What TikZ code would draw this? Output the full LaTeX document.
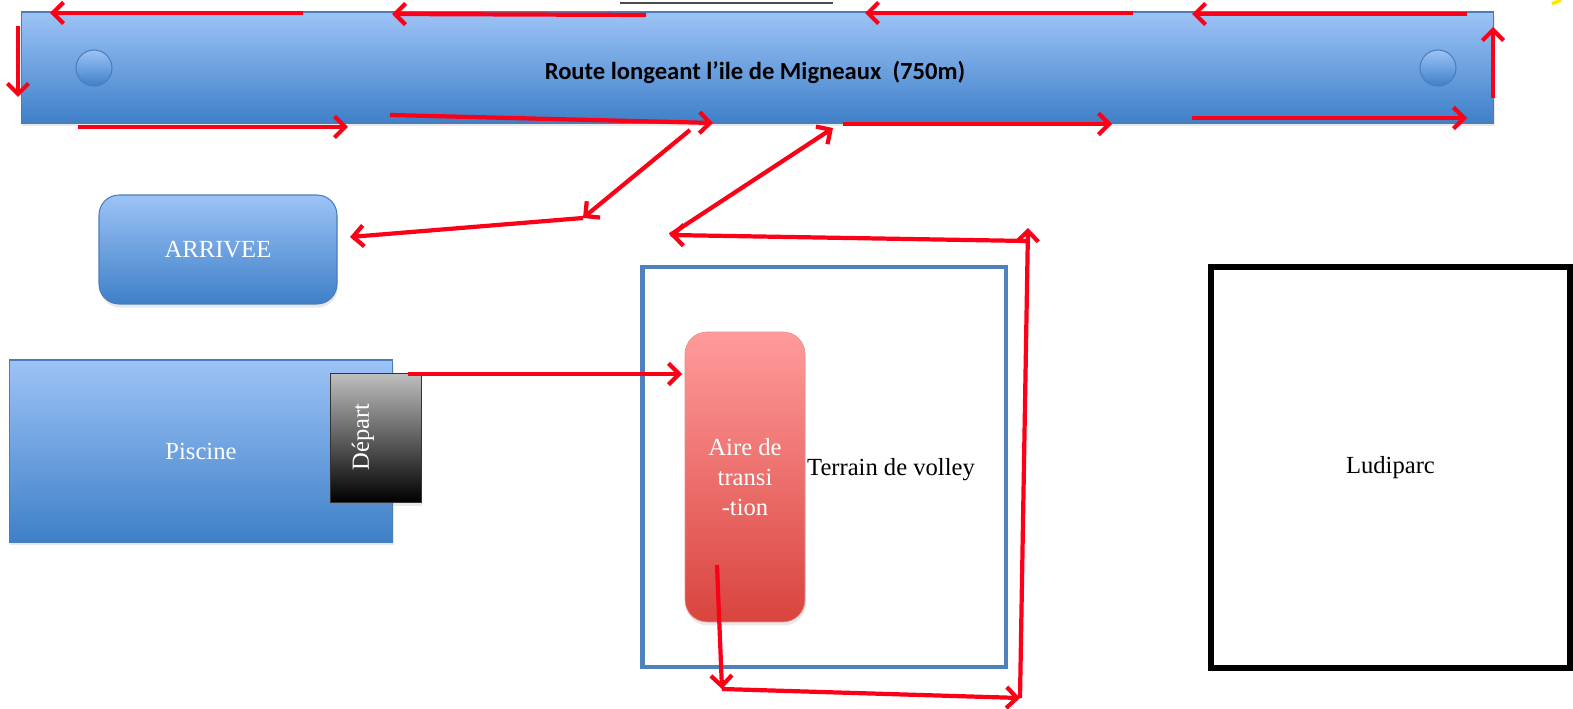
\documentclass[tikz,border=0pt]{standalone}
\usepackage{fontspec}
\setmainfont{Liberation Serif}
\newfontfamily\roadfont{Carlito}
\usetikzlibrary{arrows.meta,shadows}

\definecolor{roadtop}{RGB}{157,195,246}
\definecolor{roadbot}{RGB}{62,128,200}
\definecolor{roadline}{RGB}{74,126,187}
\definecolor{airetop}{RGB}{255,155,155}
\definecolor{airebot}{RGB}{217,68,62}
\definecolor{volley}{RGB}{79,129,189}
\definecolor{trace}{RGB}{252,0,24}

\tikzset{
    bluebox/.style={draw=roadline, top color=roadtop, bottom color=roadbot, line width=0.6pt},
    soft/.style={drop shadow={opacity=0.18, shadow xshift=0.5pt, shadow yshift=-2pt}},
    parcours/.style={draw=trace, line width=2.4pt, -{Straight Barb[length=6pt,width=12pt]}},
}

\begin{document}
\begin{tikzpicture}[x=0.02cm, y=-0.02cm, font=\fontsize{14}{17}\selectfont]

        \useasboundingbox (0,0) rectangle (1573,709);

        % la route
        \node[bluebox, soft, minimum width=29.46cm, minimum height=2.22cm] (road) at (757.5,67.5) {};
        \node[font=\roadfont\bfseries\fontsize{14}{16}\selectfont] (roadtext) at (755,72) {Route longeant l’ile de Migneaux~~(750m)};
        \node[bluebox, circle, minimum size=0.72cm, inner sep=0pt] (bulleW) at (94,68) {};
        \node[bluebox, circle, minimum size=0.72cm, inner sep=0pt] (bulleE) at (1438,68) {};

        \draw[black!70, line width=0.6pt] (620,3) -- (833,3);
        \draw[yellow!90!orange, line width=2pt] (1552,4) -- (1561,0);

        % les zones
        \node[bluebox, soft, rounded corners=0.4cm, minimum width=4.76cm, minimum height=2.18cm, text=white] (arrivee) at (218,249.5) {ARRIVEE};
        \node[bluebox, soft, minimum width=7.68cm, minimum height=3.64cm, text=white] (piscine) at (201,451) {Piscine};
        \node[draw=black!80, soft, top color=gray!50, bottom color=black, minimum width=1.82cm, minimum height=2.58cm] (depart) at (375.5,437.5) {};
        \node[rotate=90, text=white] (departtext) at (363,437) {Départ};

        \node[draw=volley, line width=2.8pt, minimum width=7.28cm, minimum height=8cm] (terrain) at (824,467) {};
        \node[draw=airebot!60, soft, rounded corners=0.44cm, top color=airetop, bottom color=airebot, minimum width=2.4cm, minimum height=5.8cm, text=white, align=center] (aire) at (745,477) {Aire de\\transi\\-tion};
        \node (terraintext) at (891,470) {Terrain de volley};

        \node[draw, line width=3.4pt, minimum width=7.18cm, minimum height=8.02cm] (ludiparc) at (1390.5,467.5) {Ludiparc};

        % points du parcours
        \coordinate (h1a) at (303,13);   \coordinate (h1b) at (50,13);
        \coordinate (h2a) at (646,15);   \coordinate (h2b) at (392,14);
        \coordinate (h3a) at (1133,13);  \coordinate (h3b) at (865,13);
        \coordinate (h4a) at (1467,14);  \coordinate (h4b) at (1192,14);
        \coordinate (gW) at (18,26);     \coordinate (gWb) at (18,97);
        \coordinate (gE) at (1493,98);   \coordinate (gEb) at (1493,27);
        \coordinate (b1a) at (78,127);   \coordinate (b1b) at (348,127);
        \coordinate (b2a) at (390,115);  \coordinate (b2b) at (713,123);
        \coordinate (b3a) at (843,124);  \coordinate (b3b) at (1112,124);
        \coordinate (b4a) at (1192,118); \coordinate (b4b) at (1467,118);
        \coordinate (sortie) at (690,130);
        \coordinate (coude) at (583,218);
        \coordinate (fin) at (350,237);
        \coordinate (entree) at (833,128);
        \coordinate (virage) at (670,235);
        \coordinate (angleH) at (1028,228);
        \coordinate (angleB) at (1020,698);
        \coordinate (go) at (408,374);
        \coordinate (transA) at (682,374);
        \coordinate (transB) at (717,565);
        \coordinate (bas) at (722,689);

        % fleches
        \draw[parcours] (h1a) -- (h1b);
        \draw[parcours] (h2a) -- (h2b);
        \draw[parcours] (h3a) -- (h3b);
        \draw[parcours] (h4a) -- (h4b);
        \draw[parcours] (gW) -- (gWb);
        \draw[parcours] (gE) -- (gEb);
        \draw[parcours] (b1a) -- (b1b);
        \draw[parcours] (b2a) -- (b2b);
        \draw[parcours] (b3a) -- (b3b);
        \draw[parcours] (b4a) -- (b4b);

        \draw[parcours] (go) -- (transA);
        \draw[parcours] (transB) -- (bas);
        \draw[parcours] (bas) -- (angleB);
        \draw[parcours] (angleB) -- (angleH);
        \draw[parcours] (1027,241) -- (virage);
        \draw[parcours] (virage) -- (entree);
        \draw[parcours] (sortie) -- (coude);
        \draw[parcours] (coude) -- (fin);

    \end{tikzpicture}
\end{document}
